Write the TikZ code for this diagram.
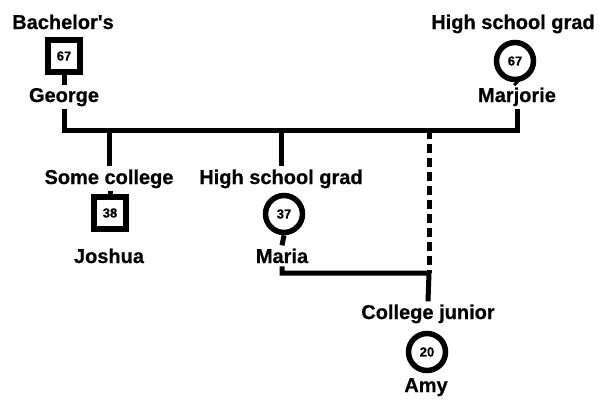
\documentclass[tikz,border=0pt]{standalone}
\usepackage{fontspec}
\setmainfont{Liberation Sans}
\newfontfamily\heavyfont{Liberation Sans}[BoldFeatures={FakeBold=0.6}]
\begin{document}
\begin{tikzpicture}[x=1pt,y=-1pt,
  lbl/.style={font=\heavyfont\fontsize{20}{22}\selectfont\bfseries, anchor=base, inner sep=3pt},
  male/.style={draw, line width=6pt, fill=white, rectangle, minimum size=32pt, inner sep=0pt,
    font=\heavyfont\fontsize{13}{14}\selectfont\bfseries},
  female/.style={draw, line width=5.5pt, fill=white, circle, minimum size=37pt, inner sep=0pt,
    font=\heavyfont\fontsize{13}{14}\selectfont\bfseries},
  link/.style={line width=5pt},
  dashlink/.style={line width=5pt, dash pattern=on 9pt off 5pt}]
\useasboundingbox (0,0) rectangle (600,402);

% generation 1
\node[lbl] (gedu) at (63,29) {Bachelor\textquotesingle s};
\node[male] (gsym) at (64,56) {67};
\node[lbl] (gname) at (64,102) {George};
\node[lbl] (medu) at (513,29) {High school grad};
\node[female] (msym) at (515,61) {67};
\node[lbl] (mname) at (517,102) {Marjorie};

% generation 2
\node[lbl] (jedu) at (109,184) {Some college};
\node[male] (jsym) at (110,213) {38};
\node[lbl] (jname) at (109,263) {Joshua};
\node[lbl] (aedu) at (281,184) {High school grad};
\node[female] (asym) at (284,214) {37};
\node[lbl] (aname) at (282,263) {Maria};

% generation 3
\node[lbl] (cedu) at (428,319) {College junior};
\node[female] (csym) at (427,352) {20};
\node[lbl] (cname) at (426,392) {Amy};

% junctions
\coordinate (cpl) at (429,130);
\coordinate (jn) at (429,273);
\coordinate (jtop) at ([yshift=3pt]jsym.north);

% stems between symbols and names
\draw[link] (gsym.south) -- (gname.north);
\draw[link] (msym.south) -- (mname.north);
\draw[link] (asym.south) -- (aname.north);
\draw[link] (jsym.north) -- (jtop);

% marriage line and children
\draw[link] (gname.south) |- (cpl) -| (mname.south);
\draw[link] (jedu.north) -- (jedu.north |- cpl);
\draw[link] (aedu.north) -- (aedu.north |- cpl);
\draw[dashlink] (cpl) -- (jn);
\draw[link] (aname.south) |- (jn) -- (cedu.north);
\end{tikzpicture}
\end{document}
